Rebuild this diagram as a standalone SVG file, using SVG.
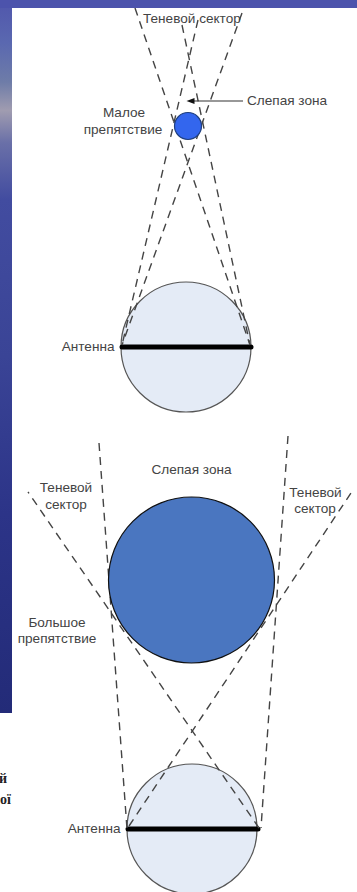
<svg xmlns="http://www.w3.org/2000/svg" width="357" height="892" viewBox="0 0 357 892">
<defs>
<linearGradient id="bg" gradientUnits="userSpaceOnUse" x1="0" y1="0" x2="0" y2="713">
<stop offset="0" stop-color="#5056ac"/><stop offset="0.06" stop-color="#5a68b0"/><stop offset="0.115" stop-color="#6e7ca8"/><stop offset="0.155" stop-color="#a09cb0"/><stop offset="0.2" stop-color="#6a70a8"/><stop offset="0.28" stop-color="#424ca0"/><stop offset="0.5" stop-color="#3a4496"/><stop offset="0.72" stop-color="#2c3488"/><stop offset="1" stop-color="#232b78"/>
</linearGradient>
</defs>
<style>
text{font-family:"Liberation Sans",Arial,sans-serif;font-size:13.6px;fill:#444}
.m{text-anchor:middle}
.d{fill:none;stroke:#444;stroke-width:1.4;stroke-dasharray:8 6}
.ant{fill:#e4ebf6;stroke:#555;stroke-width:1.2}
.bar{stroke:#000;stroke-width:5;stroke-linecap:round}
.f{font-family:"Liberation Serif",serif;font-weight:bold;fill:#222;font-size:14px}
</style>
<rect id="page" width="357" height="892" fill="#fff"/>
<g id="antenna1"><circle class="ant" cx="186" cy="347" r="65"/><line class="bar" x1="122" y1="347" x2="251" y2="347"/><text x="114.500" y="351" text-anchor="end">Антенна</text></g>
<g id="antenna2"><circle class="ant" cx="192" cy="829" r="65"/><line class="bar" x1="128" y1="829" x2="258" y2="829"/><text x="120.500" y="833" text-anchor="end">Антенна</text></g>
<g id="connectors">
<line class="d" x1="198" y1="20" x2="122" y2="345"/>
<line class="d" x1="242" y1="13" x2="122" y2="345"/>
<line class="d" x1="135" y1="8" x2="250" y2="345"/>
<line class="d" x1="182" y1="25" x2="250" y2="345"/>
<line class="d" x1="99" y1="443" x2="127" y2="829"/>
<line class="d" x1="288" y1="436" x2="261" y2="828"/>
<line class="d" x1="129" y1="826" x2="353" y2="490"/>
<line class="d" x1="259" y1="828" x2="28" y2="492"/>
<line x1="243" y1="101" x2="192" y2="101" stroke="#333" stroke-width="1.1"/>
<path d="M186.500 101l8-3v6z" fill="#111"/>
</g>
<g id="small-obstacle"><circle cx="188" cy="126" r="13.5" fill="#3366ee" stroke="#1f3f7f" stroke-width="1.2"/><text class="m" x="124" y="117">Малое</text><text class="m" x="123" y="133.500">препятствие</text></g>
<g id="big-obstacle"><circle cx="191.500" cy="580" r="83" fill="#4a76c0" stroke="#111" stroke-width="1.2"/><text class="m" x="57" y="627">Большое</text><text class="m" x="57" y="642.500">препятствие</text></g>
<g id="labels">
<text x="143" y="23">Теневой сектор</text>
<text x="247" y="105">Слепая зона</text>
<text class="m" x="191.500" y="474">Слепая зона</text>
<text class="m" x="66" y="492">Теневой</text><text class="m" x="66" y="509">сектор</text>
<text class="m" x="315.500" y="497">Теневой</text><text class="m" x="315" y="513">сектор</text>
<text class="f" x="-1" y="783">й</text>
<text class="f" x="0" y="804">ої</text>
</g>
<g id="backdrop">
<rect x="0" y="0" width="12" height="713" fill="url(#bg)"/>
<rect x="0" y="0" width="357" height="8" fill="#4c53ac"/>
</g>
</svg>
